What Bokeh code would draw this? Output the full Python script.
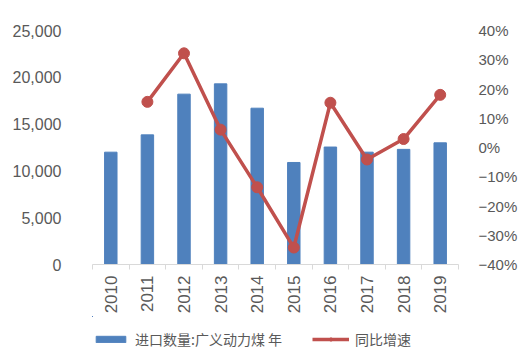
import numpy as np
from bokeh.plotting import figure
from bokeh.layouts import column
from bokeh.models import (Range1d, LinearAxis, FixedTicker, Legend, LegendItem,
                          ColumnDataSource)
from bokeh.embed import file_html
from bokeh.resources import INLINE

years = ["2010", "2011", "2012", "2013", "2014", "2015", "2016", "2017", "2018", "2019"]
imports = [12000, 13850, 18200, 19300, 16700, 10900, 12550, 12000, 12300, 13000]
yoy = [np.nan, 15.6, 32.2, 6.1, -13.6, -34.2, 15.3, -4.1, 2.9, 18.0]
left_ticks = [0, 5000, 10000, 15000, 20000, 25000]
left_labels = ["0", "5,000", "10,000", "15,000", "20,000", "25,000"]
right_ticks = [-40, -30, -20, -10, 0, 10, 20, 30, 40]
right_labels = ["−40%", "−30%", "−20%", "−10%", "0%", "10%", "20%", "30%", "40%"]
bar_name = "进口数量:广义动力煤 年"
line_name = "同比增速"

BLUE = "#4F81BD"
RED = "#C0504D"
GREY = "#595959"
FONT = "Liberation Sans"

n = len(years)
xc = np.arange(n) + 0.5
src = ColumnDataSource(dict(x=xc, imp=imports, yoy=yoy))

p = figure(width=525, height=316, output_backend="svg", toolbar_location=None,
           x_range=Range1d(0, n), y_range=Range1d(0, 25000),
           min_border_left=92, min_border_right=67, min_border_top=30,
           min_border_bottom=49, y_axis_location=None)
p.outline_line_color = None
p.xgrid.visible = False
p.ygrid.visible = False
p.background_fill_color = "white"
p.border_fill_color = "white"

p.extra_y_ranges = {"pct": Range1d(-40, 40)}

bar_style = dict(color=BLUE)
line_style = dict(line_color=RED, line_width=3.5)
pt_style = dict(size=11, color=RED)

p.vbar(x="x", top="imp", width=0.34, source=src, **bar_style)
p.line(x="x", y="yoy", y_range_name="pct", source=src, **line_style)
p.scatter(x="x", y="yoy", y_range_name="pct", source=src, **pt_style)

# bottom axis
xa = p.xaxis[0]
xa.ticker = FixedTicker(ticks=list(xc), minor_ticks=list(np.arange(n + 1)))
xa.major_label_overrides = {float(c): y for c, y in zip(xc, years)}
xa.major_label_orientation = np.pi / 2
xa.major_tick_out = 0
xa.major_tick_in = 0
xa.minor_tick_out = 5
xa.minor_tick_in = 0
xa.minor_tick_line_color = "#D9D9D9"
xa.axis_line_color = "#D9D9D9"
xa.major_label_standoff = 6
xa.major_label_text_font = FONT
xa.major_label_text_font_size = "17px"
xa.major_label_text_color = GREY

# left axis
la = LinearAxis(ticker=FixedTicker(ticks=left_ticks))
la.major_label_overrides = {t: l for t, l in zip(left_ticks, left_labels)}
la.axis_line_color = None
la.major_tick_line_color = None
la.minor_tick_line_color = None
la.major_label_standoff = 25
la.major_label_text_font = FONT
la.major_label_text_font_size = "16px"
la.major_label_text_color = GREY
p.add_layout(la, "left")

# right axis
ra = LinearAxis(y_range_name="pct", ticker=FixedTicker(ticks=right_ticks))
ra.major_label_overrides = {t: l for t, l in zip(right_ticks, right_labels)}
ra.axis_line_color = None
ra.major_tick_line_color = None
ra.minor_tick_line_color = None
ra.major_label_standoff = 14
ra.major_label_text_font = FONT
ra.major_label_text_font_size = "15px"
ra.major_label_text_color = GREY
p.add_layout(ra, "right")

# legend strip: same series drawn out of view, only their legend swatches show
q = figure(width=525, height=38, output_backend="svg", toolbar_location=None,
           x_range=Range1d(20, 21), y_range=Range1d(-2, -1),
           min_border=0, x_axis_location=None, y_axis_location=None)
q.outline_line_color = None
q.xgrid.visible = False
q.ygrid.visible = False
q.extra_y_ranges = {"pct": Range1d(100, 101)}
lb = q.vbar(x="x", top="imp", width=0.34, source=src, **bar_style)
ll = q.line(x="x", y="yoy", y_range_name="pct", source=src, **line_style)
lp = q.scatter(x="x", y="yoy", y_range_name="pct", source=src, **pt_style)

legend = Legend(items=[LegendItem(label=bar_name, renderers=[lb]),
                       LegendItem(label=line_name, renderers=[ll, lp])],
                orientation="horizontal", location=(0, 5),
                glyph_width=37, glyph_height=8, label_standoff=6, spacing=30,
                padding=0, margin=0, border_line_color=None,
                background_fill_alpha=0,
                label_text_font="Noto Sans CJK SC", label_text_font_size="14px",
                label_text_color=GREY)
q.add_layout(legend, "center")

layout = column(p, q, spacing=0)
open("out.html", "w").write(file_html(layout, INLINE))
